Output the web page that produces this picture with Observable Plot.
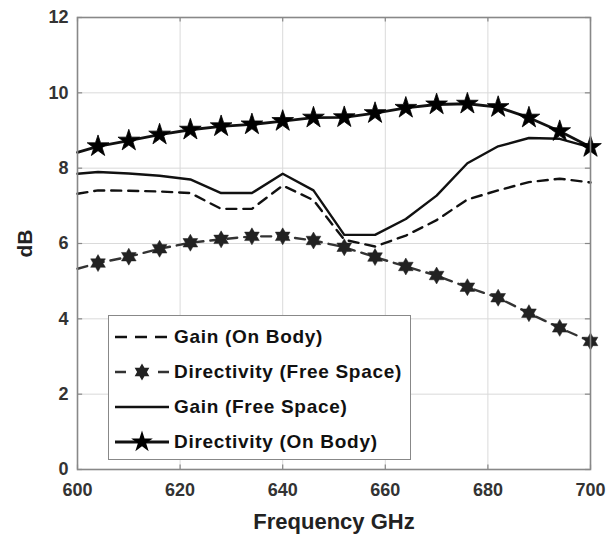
<!DOCTYPE html>
<html>
<head>
<meta charset="utf-8">
<script src="https://cdn.jsdelivr.net/npm/d3@7"></script>
<script src="https://cdn.jsdelivr.net/npm/@observablehq/plot@0.6"></script>
<style>
  body { margin: 0; background: #fff; }
  #wrap { position: relative; width: 610px; height: 535px; font-family: "Liberation Sans", Arial, sans-serif; }
  #legend { position: absolute; left: 108px; top: 315px; width: 303px; height: 145px; border: 1.5px solid #888; background: #fff; box-sizing: border-box; }
  .row { position: absolute; left: 4px; height: 24px; display: flex; align-items: center; }
  .row span { font-weight: bold; font-size: 19px; letter-spacing: 0.7px; color: #111; margin-left: 3px; white-space: nowrap; }
</style>
</head>
<body>
<div id="wrap"></div>
<script>
const freq = [600, 604, 610, 616, 622, 628, 634, 640, 646, 652, 658, 664, 670, 676, 682, 688, 694, 700];
const gainOnBody = [7.32, 7.41, 7.40, 7.38, 7.34, 6.92, 6.92, 7.54, 7.15, 6.10, 5.92, 6.21, 6.62, 7.17, 7.41, 7.63, 7.72, 7.62];
const dirFreeSpace = [5.33, 5.48, 5.65, 5.86, 6.02, 6.11, 6.19, 6.19, 6.08, 5.90, 5.64, 5.39, 5.15, 4.84, 4.56, 4.15, 3.76, 3.40];
const gainFreeSpace = [7.85, 7.90, 7.86, 7.80, 7.70, 7.34, 7.34, 7.85, 7.41, 6.23, 6.23, 6.65, 7.27, 8.13, 8.58, 8.80, 8.78, 8.55];
const dirOnBody = [8.42, 8.58, 8.73, 8.89, 9.02, 9.11, 9.16, 9.25, 9.34, 9.35, 9.46, 9.60, 9.69, 9.71, 9.62, 9.34, 8.98, 8.56];
const xTicks = [600, 620, 640, 660, 680, 700];
const yTicks = [0, 2, 4, 6, 8, 10, 12];
const seriesNames = ["Gain (On Body)", "Directivity (Free Space)", "Gain (Free Space)", "Directivity (On Body)"];

const rows = freq.map((f, i) => ({f, gob: gainOnBody[i], dfs: dirFreeSpace[i], gfs: gainFreeSpace[i], dob: dirOnBody[i]}));
const markerRows = rows.filter(d => d.f > 600);

// six-pointed star (hexagram) symbol
const hexagram = {
  draw(context, size) {
    const R = Math.sqrt(size / 2.2), r = R * 0.577;
    for (let k = 0; k < 12; k++) {
      const a = -Math.PI / 2 + k * Math.PI / 6;
      const rr = k % 2 === 0 ? R : r;
      const x = rr * Math.cos(a), y = rr * Math.sin(a);
      if (k === 0) context.moveTo(x, y); else context.lineTo(x, y);
    }
    context.closePath();
  }
};
const hexR = 7.1, starR = 6.8;

const chart = Plot.plot({
  width: 610,
  height: 535,
  marginLeft: 77,
  marginRight: 20,
  marginTop: 17,
  marginBottom: 66,
  style: {fontFamily: "Liberation Sans, Arial, sans-serif", fontSize: "18px", fontWeight: "bold", color: "#333", background: "#fff"},
  x: {domain: [600, 700]},
  y: {domain: [0, 12]},
  marks: [
    Plot.gridX(xTicks, {stroke: "#dadada", strokeOpacity: 1, strokeWidth: 1}),
    Plot.gridY(yTicks, {stroke: "#dadada", strokeOpacity: 1, strokeWidth: 1}),
    Plot.axisX({ticks: xTicks, tickSize: 0, tickPadding: 14, label: null, fill: "#333", fontSize: 18, style: "letter-spacing: 1px"}),
    Plot.axisX({ticks: [], tickSize: 0, label: "Frequency GHz", labelAnchor: "center", labelArrow: "none", labelOffset: 59, fill: "#222", fontSize: 22}),
    Plot.axisY({ticks: yTicks, tickSize: 0, tickPadding: 9, label: null, fill: "#333", fontSize: 18, style: "letter-spacing: 1px"}),
    Plot.axisY({ticks: [], tickSize: 0, label: "dB", labelAnchor: "center", labelArrow: "none", labelOffset: 60, fill: "#222", fontSize: 21}),
    // inward tick marks on all four sides
    Plot.ruleY(yTicks, {x1: 600, x2: 601, stroke: "#888", strokeWidth: 1.2}),
    Plot.ruleY(yTicks, {x1: 699, x2: 700, stroke: "#888", strokeWidth: 1.2}),
    Plot.ruleX(xTicks, {y1: 0, y2: 0.12, stroke: "#888", strokeWidth: 1.2}),
    Plot.ruleX(xTicks, {y1: 11.88, y2: 12, stroke: "#888", strokeWidth: 1.2}),
    Plot.line(rows, {x: "f", y: "gob", stroke: "#111", strokeWidth: 2.4, strokeDasharray: "10,7"}),
    Plot.line(rows, {x: "f", y: "dfs", stroke: "#333", strokeWidth: 2.4, strokeDasharray: "10,7"}),
    Plot.dot(markerRows, {x: "f", y: "dfs", symbol: hexagram, r: hexR, fill: "#222", stroke: "#222", strokeWidth: 0.5}),
    Plot.line(rows, {x: "f", y: "gfs", stroke: "#111", strokeWidth: 2.4}),
    Plot.line(rows, {x: "f", y: "dob", stroke: "#111", strokeWidth: 2.8}),
    Plot.dot(markerRows, {x: "f", y: "dob", symbol: "star", r: starR, fill: "#000", stroke: "#000", strokeWidth: 0.8}),
    Plot.frame({stroke: "#888", strokeWidth: 1.6})
  ]
});
document.getElementById("wrap").appendChild(chart);

// legend
const legend = document.createElement("div");
legend.id = "legend";
const hexPath = (() => { const p = d3.path(); hexagram.draw(p, hexR * hexR * Math.PI); return p.toString(); })();
const starPath = d3.symbol(d3.symbolStar, starR * starR * Math.PI)();
const samples = [
  `<line x1="2" y1="12" x2="56" y2="12" stroke="#111" stroke-width="2.6" stroke-dasharray="12,8"/>`,
  `<line x1="2" y1="12" x2="56" y2="12" stroke="#333" stroke-width="2.6" stroke-dasharray="11,32"/><path d="${hexPath}" transform="translate(29,12)" fill="#222"/>`,
  `<line x1="2" y1="12" x2="56" y2="12" stroke="#111" stroke-width="2.6"/>`,
  `<line x1="2" y1="12" x2="56" y2="12" stroke="#111" stroke-width="2.8"/><path d="${starPath}" transform="translate(29,12)" fill="#000"/>`
];
seriesNames.forEach((name, i) => {
  const row = document.createElement("div");
  row.className = "row";
  row.style.top = (9 + i * 35) + "px";
  row.innerHTML = `<svg width="58" height="24">${samples[i]}</svg><span>${name}</span>`;
  legend.appendChild(row);
});
document.getElementById("wrap").appendChild(legend);
</script>
</body>
</html>
